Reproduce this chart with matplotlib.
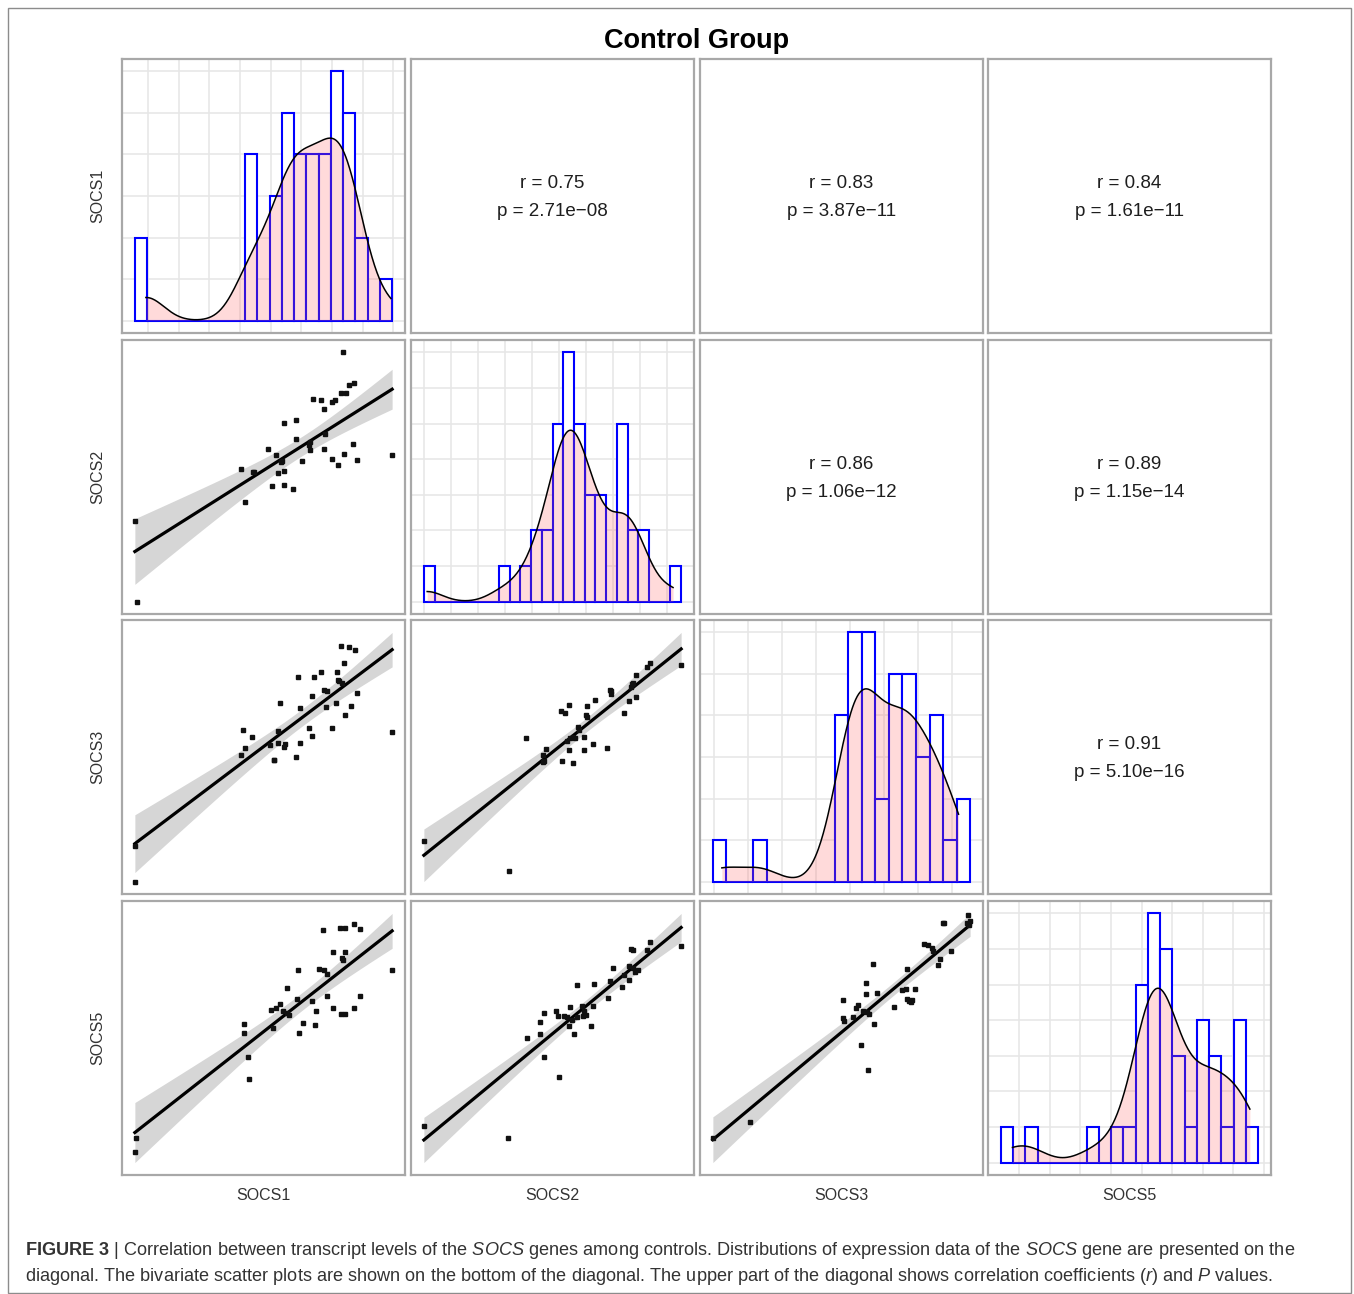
import numpy as np
import matplotlib
matplotlib.use("Agg")
import matplotlib.pyplot as plt
from matplotlib.patches import Rectangle

plt.rcParams["font.family"] = ["Liberation Sans", "DejaVu Sans"]
plt.rcParams["mathtext.fontset"] = "custom"
plt.rcParams["mathtext.rm"] = "Liberation Sans"
plt.rcParams["mathtext.it"] = "Liberation Sans:italic"
plt.rcParams["mathtext.bf"] = "Liberation Sans:bold"

# ---------------- data ----------------
genes = ["SOCS1", "SOCS2", "SOCS3", "SOCS5"]
title = "Control Group"

# expression values of each gene (relative units, min = 0, max = 100)
socs1 = [0, 0.3, 41, 42.5, 43.5, 45, 51, 53, 54.5, 56, 57, 58, 59, 60, 61, 62, 63, 64.5,
         66, 67, 68, 69.5, 71, 72, 73.5, 74.5, 76, 77, 78, 79, 79.5, 80.2,
         81, 82, 83, 84, 85, 87, 89, 100]
socs2 = [0, 31, 40, 43.5, 45.5, 48, 50, 51.5, 52.5, 53.5, 54.3, 55, 55.6, 56.3, 57, 57.6,
         58.3, 59, 59.5, 60, 61, 62, 63, 63.8, 65, 66.5, 68, 69, 70.5, 72,
         77.5, 78.5, 79.5, 80.5, 81.2, 82.5, 84.5, 87, 89, 100]
socs3 = [0, 16, 49, 50.5, 52, 53, 54, 55, 56, 57, 58, 58.8, 59.5, 60.5, 61.5, 62.5, 63.5,
         64.5, 66.5, 69, 71, 72.5, 73.5, 74.5, 76, 76.8, 78, 79, 80, 81.5,
         83, 85, 87, 88.5, 90, 91.5, 93, 96, 99.6, 100]
socs5 = [0, 8, 34, 44, 49.5, 53.5, 54.5, 55.5, 56.2, 56.8, 57.6, 58.4, 59.1, 59.8, 60.5,
         61.2, 61.9, 62.4, 63.0, 63.8, 64.6, 65.5, 66.5, 68.5, 70, 71.5, 75,
         78.5, 80, 81, 82.5, 84, 85.5, 87, 90.5, 94, 95.5, 96.5, 97.8, 100]
diag_values = [socs1, socs2, socs3, socs5]

# histogram binning used on the diagonal (first edge, bin width, number of bins)
hist_first_edge = [-4.5, -1.35, -3.79, -4.88]
hist_bin_width = [5.0, 4.36, 5.72, 5.16]
hist_n_bins = [21, 24, 19, 21]
# x-grid breaks on the diagonal (first break, step)
grid_start = [0.95, -1.35, -3.5, 2.8]
grid_step = [12.5, 11.0, 14.4, 12.9]

# lower-triangle scatter panels (x = column gene, y = row gene)
s21_x = [80.9, 83.2, 85.1, 80.0, 82.2, 69.3, 72.4, 76.6, 77.6, 73.5, 58.1, 62.5, 62.5, 73.8,
         67.7, 68.0, 51.9, 54.8, 56.7, 41.1, 46.0, 55.7, 57.9, 64.9, 73.6, 76.5, 79.1, 81.3,
         84.8, 86.3, 100, 53.4, 57.8, 61.6, 42.8, 0, 0.8, 68.0, 57.0, 46.3]
s21_y = [97.4, 84.7, 85.5, 81.6, 81.4, 79.0, 78.8, 77.9, 78.6, 75.3, 69.7, 71.0, 63.6, 65.6,
         61.0, 59.1, 59.7, 57.1, 54.3, 51.7, 50.4, 50.0, 50.9, 54.8, 59.4, 55.5, 53.2, 57.4,
         61.3, 55.1, 57.0, 45.2, 45.5, 43.9, 38.7, 31.4, -0.3, 62.3, 54.8, 50.6]

s31_x = [80.1, 83.3, 85.5, 81.4, 63.4, 69.5, 72.4, 78.6, 79.2, 80.4, 79.1, 73.4, 74.8, 69.0,
         86.2, 56.5, 64.0, 74.2, 78.2, 84.0, 81.7, 67.7, 76.6, 69.0, 42.0, 45.6, 55.6, 42.8,
         41.1, 55.8, 58.4, 57.8, 52.6, 64.1, 54.1, 53.9, 62.8, 100, 0, 0]
s31_y = [94.5, 93.9, 92.9, 87.8, 82.1, 82.3, 84.0, 84.0, 80.5, 79.9, 81.0, 77.0, 76.6, 74.7,
         76.0, 72.1, 70.1, 70.4, 72.1, 70.9, 67.3, 62.1, 62.3, 58.8, 61.3, 58.7, 61.0, 54.3,
         51.3, 56.2, 55.8, 54.5, 55.3, 56.2, 49.6, 49.4, 50.5, 60.6, 15.6, 1.6]

s32_x = [87.8, 86.8, 100, 82.5, 80.8, 80.5, 81.2, 72.5, 72.7, 72.7, 79.9, 82.6, 77.9, 66.5,
         63.4, 62.9, 63.4, 56.4, 53.2, 54.8, 60.1, 60.4, 57.9, 56.9, 58.8, 55.8, 62.1, 39.7,
         47.4, 46.5, 56.6, 62.3, 65.8, 71.2, 46.8, 53.5, 57.8, 0, 32.9, 46.5]
s32_y = [87.7, 86.1, 86.8, 83.1, 79.2, 78.2, 79.9, 76.9, 75.3, 76.4, 72.7, 74.3, 67.8, 73.0,
         70.4, 66.9, 66.0, 70.8, 68.6, 67.8, 62.3, 61.0, 58.4, 57.8, 57.9, 56.5, 58.4, 57.9,
         53.5, 50.9, 53.2, 53.2, 55.3, 54.0, 48.7, 48.7, 47.8, 16.6, 4.9, 48.1]

s41_x = [73.2, 79.9, 81.5, 85.3, 87.5, 77.1, 81.5, 80.6, 81.0, 63.3, 71.4, 73.6, 74.7, 100,
         59.0, 62.9, 69.0, 56.5, 53.1, 54.7, 57.6, 59.1, 59.8, 74.7, 87.5, 70.6, 77.1, 80.3,
         81.6, 85.2, 42.4, 42.3, 53.6, 65.2, 70.2, 63.8, 43.9, 44.5, 0.5, 0]
s41_y = [91.6, 92.2, 92.2, 93.8, 91.9, 83.1, 82.9, 80.5, 79.7, 76.1, 76.2, 76.0, 74.3, 75.8,
         68.8, 64.5, 64.0, 62.9, 60.5, 61.0, 60.0, 59.1, 58.4, 65.8, 65.8, 60.0, 61.0, 58.8,
         58.7, 61.3, 54.9, 51.4, 53.2, 55.2, 54.5, 51.6, 42.2, 33.5, 10.6, 5.2]

s42_x = [87.8, 81.2, 80.5, 86.8, 100, 73.6, 79.9, 81.2, 83.1, 82.1, 79.9, 72.5, 77.9, 77.1,
         71.7, 59.7, 66.2, 56.9, 61.7, 65.7, 62.3, 51.7, 52.2, 46.8, 54.5, 55.8, 59.7, 62.1,
         63.2, 57.8, 56.5, 64.9, 45.2, 45.2, 58.4, 40.3, 46.8, 52.6, 0.3, 32.9]
s42_y = [87.3, 84.4, 84.7, 84.4, 85.7, 77.3, 77.9, 77.3, 76.4, 75.6, 72.5, 72.1, 74.7, 69.9,
         65.5, 70.8, 71.2, 62.1, 62.6, 62.3, 60.4, 60.4, 58.7, 59.7, 58.4, 58.2, 58.2, 58.4,
         59.1, 57.1, 54.8, 54.5, 56.2, 51.6, 51.4, 50.0, 42.6, 34.7, 15.6, 10.9]

s43_x = [99.1, 100, 98.7, 99.6, 89.3, 90.0, 81.9, 83.8, 85.1, 85.5, 92.6, 88.4, 87.7, 75.3,
         62.2, 59.5, 59.5, 63.8, 73.7, 75.0, 78.7, 75.4, 76.3, 77.1, 77.4, 70.4, 50.5, 56.4,
         55.6, 50.5, 50.8, 54.3, 59.9, 60.5, 58.2, 62.6, 57.7, 60.3, 14.6, 0]
s43_y = [98.7, 96.1, 95.5, 94.8, 95.3, 95.3, 87.3, 87.0, 85.7, 84.4, 84.4, 81.2, 79.0, 77.3,
         79.2, 71.9, 67.5, 68.1, 69.1, 69.5, 69.5, 65.6, 64.9, 64.3, 65.2, 62.6, 65.3, 63.4,
         62.3, 58.2, 57.1, 58.7, 60.4, 59.7, 61.0, 55.8, 47.8, 37.7, 17.5, 11.3]

scatter_panels = {(1, 0): (s21_x, s21_y), (2, 0): (s31_x, s31_y), (2, 1): (s32_x, s32_y),
                  (3, 0): (s41_x, s41_y), (3, 1): (s42_x, s42_y), (3, 2): (s43_x, s43_y)}

# upper-triangle statistics
upper_pairs = [(0, 1), (0, 2), (0, 3), (1, 2), (1, 3), (2, 3)]
upper_r = ["0.75", "0.83", "0.84", "0.86", "0.89", "0.91"]
upper_p = ["2.71e\u221208", "3.87e\u221211", "1.61e\u221211", "1.06e\u221212",
           "1.15e\u221214", "5.10e\u221216"]

caption_line1 = (r"$\bf{FIGURE\ 3}$ | Correlation between transcript levels of the $\it{SOCS}$ genes among "
                 r"controls. Distributions of expression data of the $\it{SOCS}$ gene are presented on the")
caption_line2 = (r"diagonal. The bivariate scatter plots are shown on the bottom of the diagonal. The upper "
                 r"part of the diagonal shows correlation coefficients ($\it{r}$) and $\it{P}$ values.")

T_CRIT = 2.024  # t quantile 0.975, df = 38

# ---------------- layout ----------------
W, H = 1354, 1294
fig = plt.figure(figsize=(W / 100, H / 100), dpi=100)
fig.patch.set_facecolor("white")

col_left = [122, 411, 700, 988]
row_top = [59, 340, 620, 901]
PW, PH = 283, 274
BORDER = "#a8a8a8"


def make_ax(r, c):
    x0 = col_left[c]
    y0 = row_top[r]
    ax = fig.add_axes([x0 / W, 1 - (y0 + PH) / H, PW / W, PH / H])
    ax.set_facecolor("white")
    for s in ax.spines.values():
        s.set_color(BORDER)
        s.set_linewidth(1.6)
    ax.tick_params(length=0, labelbottom=False, labelleft=False)
    return ax


def kde(values, grid):
    v = np.asarray(values, float)
    n = len(v)
    q75, q25 = np.percentile(v, [75, 25])
    bw = 0.9 * min(v.std(ddof=1), (q75 - q25) / 1.34) * n ** (-0.2)
    z = (grid[:, None] - v[None, :]) / bw
    return np.exp(-0.5 * z ** 2).sum(axis=1) / (n * bw * np.sqrt(2 * np.pi))


for i in range(4):
    for j in range(4):
        ax = make_ax(i, j)
        if i == j:
            vals = np.asarray(diag_values[i], float)
            n = len(vals)
            w = hist_bin_width[i]
            edges = hist_first_edge[i] + w * np.arange(hist_n_bins[i] + 1)
            counts, _ = np.histogram(vals, bins=edges)
            dens_h = counts / (n * w)
            xs = np.linspace(vals.min(), vals.max(), 300)
            dens = kde(vals, xs)
            ax.bar(edges[:-1], dens_h, width=w, align="edge", facecolor="white",
                   edgecolor="#0000ff", linewidth=1.5, zorder=2)
            ax.fill_between(xs, 0, dens, color="#ff5a5a", alpha=0.22, linewidth=0, zorder=3)
            ax.plot(xs, dens, color="black", lw=1.1, zorder=4)
            lo, hi = edges[0], edges[-1]
            pad = 0.05 * (hi - lo)
            top = max(dens_h.max(), dens.max())
            gx = grid_start[i] + grid_step[i] * np.arange(-3, 15)
            gx = gx[(gx > lo - pad) & (gx < hi + pad)]
            ax.set_xticks(gx)
            ax.set_yticks(np.arange(0, counts.max() + 2) / (n * w))
            ax.set_xlim(lo - pad, hi + pad)
            ax.set_ylim(-0.05 * top, 1.05 * top)
            ax.grid(True, color="#e6e6e6", lw=1.1, zorder=0)
            ax.set_axisbelow(True)
        elif i > j:
            x, y = (np.asarray(a, float) for a in scatter_panels[(i, j)])
            n = len(x)
            b, a = np.polyfit(x, y, 1)
            xs = np.linspace(x.min(), x.max(), 100)
            yh = a + b * xs
            res = y - (a + b * x)
            s = np.sqrt((res ** 2).sum() / (n - 2))
            sxx = ((x - x.mean()) ** 2).sum()
            se = s * np.sqrt(1 / n + (xs - x.mean()) ** 2 / sxx)
            lo_b, hi_b = yh - T_CRIT * se, yh + T_CRIT * se
            ax.fill_between(xs, lo_b, hi_b, color="#999999", alpha=0.4, linewidth=0, zorder=1)
            ax.plot(xs, yh, color="black", lw=2.3, zorder=2)
            ax.plot(x, y, linestyle="none", marker="s", ms=3.4, color="#111111", zorder=3)
            xpad = 0.05 * (x.max() - x.min())
            ax.set_xlim(x.min() - xpad, x.max() + xpad)
            ylo = min(y.min(), lo_b.min())
            yhi = max(y.max(), hi_b.max())
            ypad = 0.05 * (yhi - ylo)
            ax.set_ylim(ylo - ypad, yhi + ypad)
            ax.set_xticks([])
            ax.set_yticks([])
        else:
            k = upper_pairs.index((i, j))
            ax.set_xticks([])
            ax.set_yticks([])
            ax.text(0.5, 0.545, "r = " + upper_r[k], transform=ax.transAxes, ha="center",
                    va="center", fontsize=13.5, color="#1e1e1e")
            ax.text(0.5, 0.443, "p = " + upper_p[k], transform=ax.transAxes, ha="center",
                    va="center", fontsize=13.5, color="#1e1e1e")

# variable labels
for k, g in enumerate(genes):
    yc = row_top[k] + PH / 2
    fig.text(98 / W, 1 - yc / H, g, rotation=90, ha="center", va="center",
             fontsize=11.5, color="#333333")
    xc = col_left[k] + PW / 2
    fig.text(xc / W, 1 - 1195 / H, g, ha="center", va="center", fontsize=11.5, color="#333333")

fig.text(697 / W, 1 - 41 / H, title, ha="center", va="center", fontsize=19.5,
         fontweight="bold", color="black")

# caption
renderer = fig.canvas.get_renderer()
c1 = fig.text(25 / W, 1 - 1255 / H, caption_line1, ha="left", va="baseline",
              fontsize=12, color="#333333")
w1 = c1.get_window_extent(renderer).width
size = 12 * 1272 / w1
c1.set_fontsize(size)
fig.text(25 / W, 1 - 1281 / H, caption_line2, ha="left", va="baseline",
         fontsize=size, color="#333333")

# outer frame
fig.add_artist(Rectangle((8 / W, 1 - 1293 / H), (1351 - 8) / W, (1293 - 8) / H,
                         transform=fig.transFigure, fill=False, edgecolor="#8c8c8c", lw=1.0))

fig.savefig("out.png", dpi=100, facecolor="white")
